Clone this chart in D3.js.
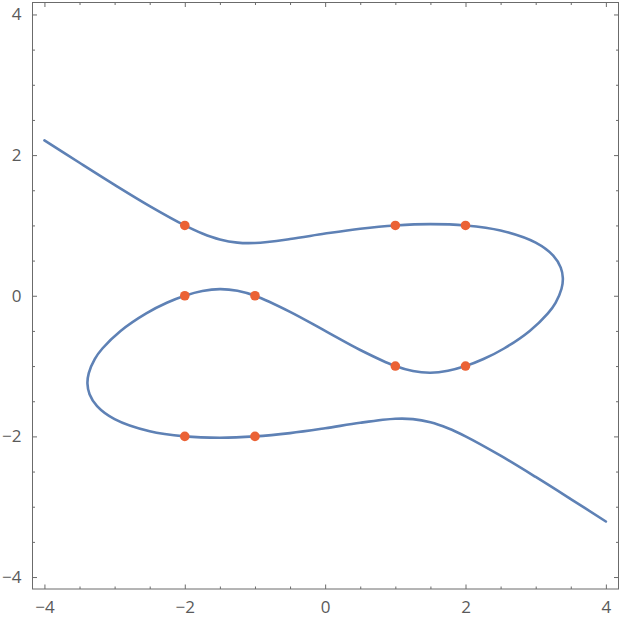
<!DOCTYPE html>
<html><head><meta charset="utf-8">
<script src="https://cdn.jsdelivr.net/npm/d3@7"></script>
<style>html,body{margin:0;padding:0;background:#fff;}svg{display:block;}</style>
</head><body>
<svg id="chart" width="622" height="620"></svg>
<script>
// Curve, in path order
const curveX = [-4,-3.5,-3,-2.5,-2,-1.75,-1.5,-1.25,-1,-0.5,0,0.5,1,1.5,2,2.5,3,3.25,3.357,3.387,3.368,3.283,3.174,2.915,2.549,2.256,2,1.75,1.5,1.25,1,0.5,0,-0.5,-1,-1.25,-1.5,-1.75,-2,-2.256,-2.549,-2.915,-3.174,-3.283,-3.368,-3.387,-3.357,-3.25,-3,-2.5,-2,-1.5,-1,-0.5,0,0.5,1,1.25,1.5,1.75,2,2.5,3,3.5,4];
const curveY = [2.21,1.891,1.577,1.275,1,0.885,0.80,0.755,0.75,0.806,0.884,0.953,1,1.019,1,0.928,0.755,0.57,0.4,0.25,0.1,-0.1,-0.25,-0.5,-0.75,-0.9,-1,-1.067,-1.094,-1.071,-1,-0.771,-0.5,-0.229,0,0.071,0.094,0.067,0,-0.1,-0.25,-0.5,-0.75,-0.9,-1.1,-1.25,-1.4,-1.57,-1.755,-1.928,-2,-2.019,-2,-1.953,-1.884,-1.806,-1.75,-1.755,-1.80,-1.885,-2,-2.275,-2.577,-2.891,-3.21];
// Marked points
const pointX = [-2,1,2,-2,-1,1,2,-2,-1];
const pointY = [1,1,1,0,0,-1,-1,-2,-2];
// Ticks
const majorTicks = [-4,-2,0,2,4];
const minorTicks = d3.range(-4,4.01,0.5).filter(v=>!majorTicks.includes(v));

const svg = d3.select("#chart");
const x = d3.scaleLinear().domain([-4.17,4.18]).range([32.5,618.5]);
const y = d3.scaleLinear().domain([-4.17,4.17]).range([589,2.5]);

const axisColor = "#6b6b6b";
const fmt = d => d<0 ? "\u2212"+Math.abs(d) : String(d);

// Frame
svg.append("rect").attr("x",x.range()[0]).attr("y",y.range()[1])
  .attr("width",x.range()[1]-x.range()[0]).attr("height",y.range()[0]-y.range()[1])
  .attr("fill","none").attr("stroke",axisColor).attr("stroke-width",1);

function addAxis(axisGen, transform, labels){
  const g = svg.append("g").attr("transform",transform);
  g.call(axisGen);
  g.select(".domain").remove();
  g.selectAll("line").attr("stroke",axisColor);
  g.selectAll("text").attr("fill","#5a5a5a").style("font-family","'Open Sans', sans-serif").style("font-size","17px");
  if(!labels) g.selectAll("text").remove();
  return g;
}
// major
addAxis(d3.axisBottom(x).tickValues(majorTicks).tickSize(-4.5).tickPadding(12).tickFormat(fmt), `translate(0,${y.range()[0]})`, true);
addAxis(d3.axisTop(x).tickValues(majorTicks).tickSize(-4.5).tickFormat(fmt), `translate(0,${y.range()[1]})`, false);
addAxis(d3.axisLeft(y).tickValues(majorTicks).tickSize(-4.5).tickPadding(11).tickFormat(fmt), `translate(${x.range()[0]},0)`, true);
addAxis(d3.axisRight(y).tickValues(majorTicks).tickSize(-4.5).tickFormat(fmt), `translate(${x.range()[1]},0)`, false);
// minor
addAxis(d3.axisBottom(x).tickValues(minorTicks).tickSize(-2.5), `translate(0,${y.range()[0]})`, false);
addAxis(d3.axisTop(x).tickValues(minorTicks).tickSize(-2.5), `translate(0,${y.range()[1]})`, false);
addAxis(d3.axisLeft(y).tickValues(minorTicks).tickSize(-2.5), `translate(${x.range()[0]},0)`, false);
addAxis(d3.axisRight(y).tickValues(minorTicks).tickSize(-2.5), `translate(${x.range()[1]},0)`, false);

// Curve
const pts = curveX.map((v,i)=>[v,curveY[i]]);
svg.append("path").datum(pts)
  .attr("d", d3.line().x(d=>x(d[0])).y(d=>y(d[1])).curve(d3.curveCatmullRom.alpha(0.5)))
  .attr("fill","none").attr("stroke","#5e81b5").attr("stroke-width",2.6)
  .attr("stroke-linejoin","round").attr("stroke-linecap","round");

// Points
svg.append("g").selectAll("circle").data(pointX.map((v,i)=>[v,pointY[i]])).join("circle")
  .attr("cx",d=>x(d[0])).attr("cy",d=>y(d[1])).attr("r",4.8).attr("fill","#eb6235");
</script>
</body></html>
